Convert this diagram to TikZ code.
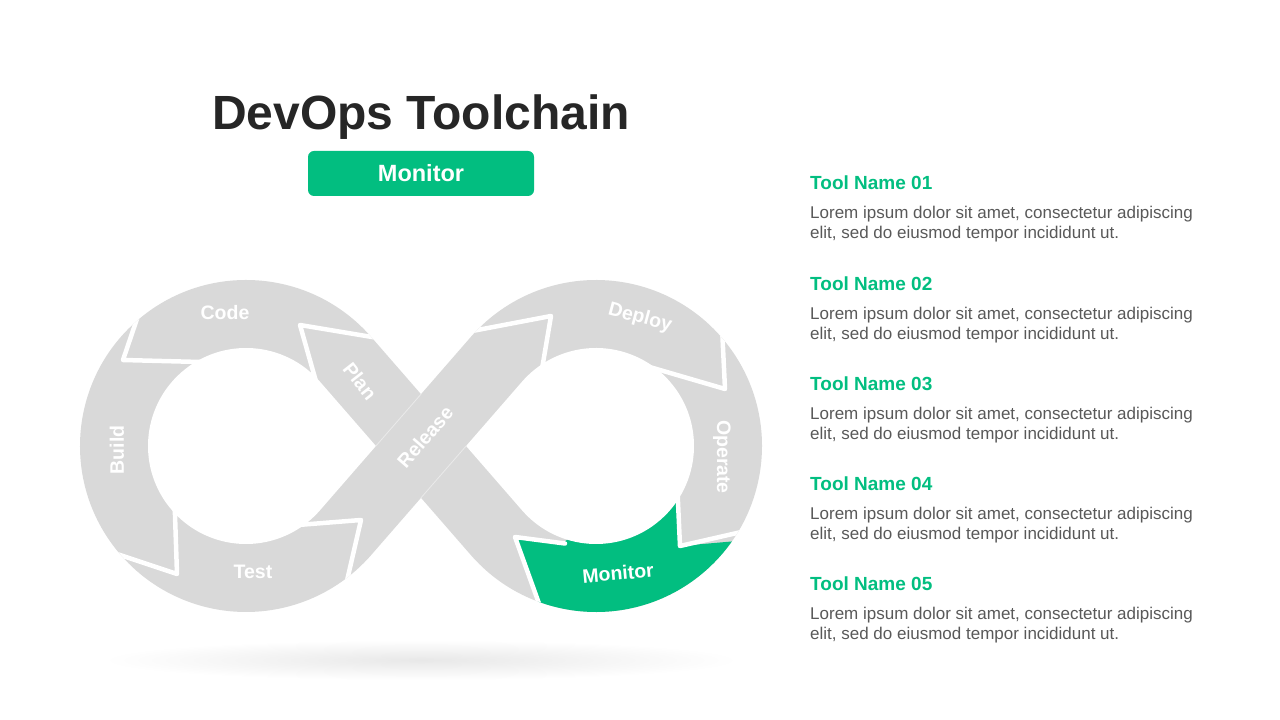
\documentclass[tikz,border=0pt]{standalone}
\usepackage{fontspec}
\setmainfont{Liberation Sans}
\usetikzlibrary{calc}
\definecolor{devgreen}{RGB}{2,190,128}
\definecolor{devgrey}{RGB}{217,217,217}
\definecolor{titlecol}{RGB}{38,38,38}
\definecolor{bodycol}{RGB}{89,89,89}
\begin{document}
\begin{tikzpicture}[x=1pt,y=1pt,
  seplink/.style={white, line width=4.5pt, line join=round, line cap=round},
  seglabel/.style={text=white, font=\fontsize{19.5}{19.5}\selectfont\bfseries, inner sep=0pt},
  headtext/.style={anchor=base west, inner sep=0pt, text=devgreen, font=\fontsize{19}{19}\selectfont\bfseries},
  bodytext/.style={anchor=base west, inner sep=0pt, text=bodycol, font=\fontsize{17}{20}\selectfont}]
\useasboundingbox (0,0) rectangle (1280,720);
\fill[white] (0,0) rectangle (1280,720);

% title and button
\node[anchor=base, inner sep=0pt, text=titlecol, font=\fontsize{48}{48}\selectfont\bfseries] (title) at (421,590) {DevOps Toolchain};
\node[fill=devgreen, rounded corners=6pt, minimum width=226pt, minimum height=45pt, inner sep=0pt, text=white, font=\fontsize{23.5}{23.5}\selectfont\bfseries] (btn) at (421,546.5) {Monitor};

% shadow
\shade[inner color=black!9, outer color=white] (421,60) ellipse [x radius=318pt, y radius=20pt];

% key points
\coordinate (L) at (246,274);
\coordinate (R) at (596,274);
\coordinate (T) at (421,325.8);
\coordinate (B) at (421,222.2);
\coordinate (W) at (375.9,274);
\coordinate (E) at (466.1,274);

% band
\fill[devgrey] (T) -- ($(L)+(41:166pt)$) arc[start angle=41,end angle=319,radius=166pt] -- (B) -- ($(R)+(-139:166pt)$) arc[start angle=-139,end angle=139,radius=166pt] -- cycle;

\begin{scope}
\clip (T) -- ($(L)+(41:166pt)$) arc[start angle=41,end angle=319,radius=166pt] -- (B) -- ($(R)+(-139:166pt)$) arc[start angle=-139,end angle=139,radius=166pt] -- cycle;
% monitor segment
\fill[devgreen] (515,183) -- (562,177) -- (600,200) -- (660,240) -- (677.5,240) -- (680,174) -- (760,181) -- (760,60) -- (545,60) -- (545,100) -- cycle;
% faint seams of the crossing
\draw[white, opacity=0.45, line width=0.8pt] (W) -- (T);
\draw[white, opacity=0.45, line width=0.8pt] (B) -- (E);
% separators
\coordinate (t1) at (300,395);
\draw[seplink] ($(t1)!1.6!(360,385)$) -- (t1) -- ($(t1)!1.6!(317,335)$);
\coordinate (t2) at (123,360);
\draw[seplink] ($(t2)!1.6!(140,410)$) -- (t2) -- ($(t2)!1.6!(200,358)$);
\coordinate (t3) at (177,146);
\draw[seplink] ($(t3)!1.6!(120,165)$) -- (t3) -- ($(t3)!1.6!(175,205)$);
\coordinate (t4) at (361,200);
\draw[seplink] ($(t4)!1.6!(298,195)$) -- (t4) -- ($(t4)!1.6!(349,148)$);
\coordinate (t5) at (551,404);
\draw[seplink] ($(t5)!1.6!(488,392)$) -- (t5) -- ($(t5)!1.6!(542,351)$);
\coordinate (t6) at (725,331);
\draw[seplink] ($(t6)!1.6!(722,393)$) -- (t6) -- ($(t6)!1.6!(677,345)$);
\coordinate (t7) at (680,174);
\draw[seplink] ($(t7)!1.6!(678,218)$) -- (t7) -- ($(t7)!1.6!(737,187)$);
\coordinate (t8) at (515,183);
\draw[seplink] (565,176.5) -- (t8) -- ($(t8)!1.6!(537,122)$);
\end{scope}

% holes
\fill[white] (W) -- ($(L)+(41:98pt)$) arc[start angle=41,end angle=319,radius=98pt] -- cycle;
\fill[white] (E) -- ($(R)+(-139:98pt)$) arc[start angle=-139,end angle=139,radius=98pt] -- cycle;

% segment labels
\node[seglabel] (lcode) at (225,407) {Code};
\node[seglabel, rotate=90] (lbuild) at (117,270) {Build};
\node[seglabel] (ltest) at (253,148) {Test};
\node[seglabel, rotate=-52] (lplan) at (360,339) {Plan};
\node[seglabel, rotate=49] (lrelease) at (425,283) {Release};
\node[seglabel, rotate=-15] (ldeploy) at (640,402) {Deploy};
\node[seglabel, rotate=-90] (loperate) at (722,263) {Operate};
\node[seglabel, rotate=5] (lmonitor) at (618,147) {Monitor};

% right-hand list
\foreach \i in {1,...,5} {
  \pgfmathsetmacro{\yb}{530-100.25*(\i-1)}
  \node[headtext] (h\i) at (810,\yb) {Tool Name 0\i};
  \node[bodytext] (a\i) at (810,\yb-29) {Lorem ipsum dolor sit amet, consectetur adipiscing};
  \node[bodytext] (b\i) at (810,\yb-49) {elit, sed do eiusmod tempor incididunt ut.};
}
\end{tikzpicture}
\end{document}
